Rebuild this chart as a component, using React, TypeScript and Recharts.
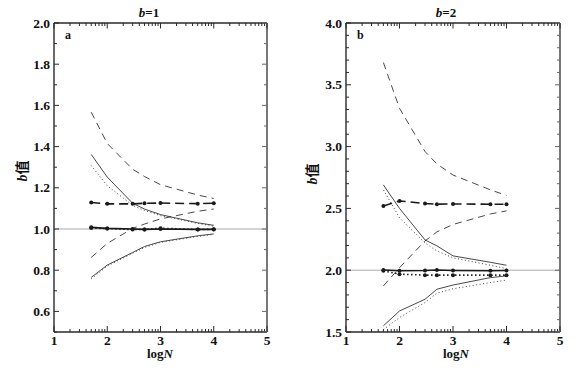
import React from "react";
import { LineChart, Line, XAxis, YAxis, ReferenceLine } from "recharts";

// logN sample points (N = 50, 100, 300, 500, 1000, 5000, 10000)
const logN = [1.699, 2, 2.477, 2.699, 3, 3.699, 4];

// panel a: b=1
const aDashUp = [1.567, 1.415, 1.29, 1.255, 1.215, 1.165, 1.148];
const aDashLo = [0.862, 0.93, 1.003, 1.024, 1.049, 1.086, 1.097];
const aSolidUp = [1.362, 1.252, 1.125, 1.097, 1.07, 1.03, 1.018];
const aDotUp = [1.308, 1.21, 1.115, 1.09, 1.065, 1.027, 1.014];
const aSolidLo = [0.765, 0.825, 0.886, 0.915, 0.938, 0.967, 0.976];
const aDotLo = [0.758, 0.82, 0.882, 0.91, 0.935, 0.964, 0.974];
const aMarkDash = [1.129, 1.122, 1.122, 1.125, 1.126, 1.123, 1.125];
const aMarkSolid = [1.008, 1.003, 1.0, 0.998, 1.0, 0.998, 0.998];
const aMarkDot = [1.005, 1.002, 0.997, 0.998, 1.004, 0.997, 0.999];

// panel b: b=2
const bDashUp = [3.68, 3.31, 2.96, 2.86, 2.77, 2.65, 2.605];
const bDashLo = [1.873, 2.02, 2.237, 2.31, 2.37, 2.455, 2.48];
const bSolidUp = [2.69, 2.5, 2.245, 2.197, 2.116, 2.064, 2.04];
const bDotUp = [2.65, 2.425, 2.22, 2.156, 2.1, 2.04, 2.013];
const bSolidLo = [1.55, 1.67, 1.765, 1.846, 1.88, 1.94, 1.954];
const bDotLo = [1.52, 1.617, 1.738, 1.814, 1.85, 1.9, 1.92];
const bMarkDash = [2.52, 2.56, 2.54, 2.534, 2.536, 2.534, 2.534];
const bMarkSolid = [2.002, 1.995, 1.998, 2.002, 1.998, 1.995, 1.998];
const bMarkDot = [1.995, 1.968, 1.96, 1.96, 1.96, 1.96, 1.96];

// axis ticks
const xMajor = [1, 2, 3, 4, 5];
const xMinorOffsets = [0.301, 0.477, 0.602, 0.699, 0.778, 0.845, 0.903, 0.954];
const yTicksA = [0.5, 0.6, 0.7, 0.8, 0.9, 1.0, 1.1, 1.2, 1.3, 1.4, 1.5, 1.6, 1.7, 1.8, 1.9, 2.0];
const yLabelsA = [0.6, 0.8, 1.0, 1.2, 1.4, 1.6, 1.8, 2.0];
const yTicksB = [1.5, 1.6, 1.7, 1.8, 1.9, 2.0, 2.1, 2.2, 2.3, 2.4, 2.5, 2.6, 2.7, 2.8, 2.9, 3.0,
  3.1, 3.2, 3.3, 3.4, 3.5, 3.6, 3.7, 3.8, 3.9, 4.0];
const yLabelsB = [1.5, 2.0, 2.5, 3.0, 3.5, 4.0];

const xTicks = [...xMajor, ...[1, 2, 3, 4].flatMap((d) => xMinorOffsets.map((m) => d + m))];

const FONT = "'Liberation Serif', 'Noto Sans CJK SC', serif";
const INK = "#1a1a1a";
const AX = "#2a2a2a";

const has = (list: number[], v: number) => list.some((t) => Math.abs(t - v) < 1e-6);

const buildRows = (s: Record<string, number[]>) =>
  logN.map((x, i) => {
    const row: Record<string, number> = { x };
    Object.keys(s).forEach((k) => (row[k] = s[k][i]));
    return row;
  });

const rowsA = buildRows({
  dashUp: aDashUp, dashLo: aDashLo, solidUp: aSolidUp, dotUp: aDotUp,
  solidLo: aSolidLo, dotLo: aDotLo, mDash: aMarkDash, mSolid: aMarkSolid, mDot: aMarkDot,
});
const rowsB = buildRows({
  dashUp: bDashUp, dashLo: bDashLo, solidUp: bSolidUp, dotUp: bDotUp,
  solidLo: bSolidLo, dotLo: bDotLo, mDash: bMarkDash, mSolid: bMarkSolid, mDot: bMarkDot,
});

const txt = { fontFamily: FONT, fontWeight: "bold" as const };

const bottomTick = (p: any) => {
  const major = has(xMajor, p.payload.value);
  return (
    <g>
      <line x1={p.x} x2={p.x} y1={p.y} y2={p.y - (major ? 6 : 3)} stroke={AX} strokeWidth={1} />
      {major && (
        <text x={p.x} y={p.y + 12.5} textAnchor="middle" fontSize={13.5} fill="#111" style={txt}>
          {p.payload.value}
        </text>
      )}
    </g>
  );
};

const topTick = (p: any) => {
  const major = has(xMajor, p.payload.value);
  return <line x1={p.x} x2={p.x} y1={p.y} y2={p.y + (major ? 5.5 : 3)} stroke={AX} strokeWidth={1} />;
};

const leftTick = (labels: number[]) => (p: any) => {
  const major = has(labels, p.payload.value);
  return (
    <g>
      <line x1={p.x} x2={p.x + (major ? 5 : 3)} y1={p.y} y2={p.y} stroke={AX} strokeWidth={1} />
      {major && (
        <text x={p.x - 4} y={p.y + 4.5} textAnchor="end" fontSize={13.5} fill="#111" style={txt}>
          {p.payload.value.toFixed(1)}
        </text>
      )}
    </g>
  );
};

const rightTick = (labels: number[]) => (p: any) => {
  const major = has(labels, p.payload.value);
  return <line x1={p.x} x2={p.x - (major ? 5 : 3)} y1={p.y} y2={p.y} stroke="#666" strokeWidth={1} />;
};

type PanelProps = {
  rows: Record<string, number>[];
  domain: [number, number];
  yTicks: number[];
  yLabels: number[];
  refY: number;
  leftW: number;
  rightW: number;
};

const Panel = ({ rows, domain, yTicks, yLabels, refY, leftW, rightW }: PanelProps) => (
  <LineChart width={290} height={370} data={rows} margin={{ top: 0, right: 0, bottom: 0, left: 0 }}>
    <XAxis
      dataKey="x"
      type="number"
      domain={[1, 5]}
      ticks={xTicks}
      interval={0}
      tickSize={0}
      tickMargin={0}
      tickLine={false}
      tick={bottomTick}
      axisLine={{ stroke: AX, strokeWidth: 1.4 }}
      height={38}
      allowDataOverflow
    />
    <XAxis
      xAxisId="top"
      orientation="top"
      dataKey="x"
      type="number"
      domain={[1, 5]}
      ticks={xTicks}
      interval={0}
      tickSize={0}
      tickMargin={0}
      tickLine={false}
      tick={topTick}
      axisLine={{ stroke: AX, strokeWidth: 1.4 }}
      height={23}
      allowDataOverflow
    />
    <YAxis
      type="number"
      domain={domain}
      ticks={yTicks}
      interval={0}
      tickSize={0}
      tickMargin={0}
      tickLine={false}
      tick={leftTick(yLabels)}
      axisLine={{ stroke: AX, strokeWidth: 1.4 }}
      width={leftW}
      allowDataOverflow
    />
    <YAxis
      yAxisId="r"
      orientation="right"
      type="number"
      domain={domain}
      ticks={yTicks}
      interval={0}
      tickSize={0}
      tickMargin={0}
      tickLine={false}
      tick={rightTick(yLabels)}
      axisLine={{ stroke: "#777", strokeWidth: 2 }}
      width={rightW}
      allowDataOverflow
    />
    <ReferenceLine y={refY} stroke="#aaa" strokeWidth={1} />
    <Line dataKey="dashUp" stroke={INK} strokeWidth={0.8} strokeDasharray="7 5" dot={false} isAnimationActive={false} />
    <Line dataKey="dashLo" stroke={INK} strokeWidth={0.8} strokeDasharray="7 5" dot={false} isAnimationActive={false} />
    <Line dataKey="solidUp" stroke={INK} strokeWidth={0.8} dot={false} isAnimationActive={false} />
    <Line dataKey="solidLo" stroke={INK} strokeWidth={0.8} dot={false} isAnimationActive={false} />
    <Line dataKey="dotUp" stroke="#444" strokeWidth={1} strokeDasharray="1 2.5" dot={false} isAnimationActive={false} />
    <Line dataKey="dotLo" stroke="#444" strokeWidth={1} strokeDasharray="1 2.5" dot={false} isAnimationActive={false} />
    <Line dataKey="mDash" stroke={INK} strokeWidth={1.6} strokeDasharray="9 5" dot={{ r: 2, fill: INK, stroke: "none" }} isAnimationActive={false} />
    <Line dataKey="mDot" stroke={INK} strokeWidth={1.6} strokeDasharray="1.5 2.5" dot={{ r: 2, fill: INK, stroke: "none" }} isAnimationActive={false} />
    <Line dataKey="mSolid" stroke={INK} strokeWidth={1.6} dot={{ r: 2, fill: INK, stroke: "none" }} isAnimationActive={false} />
  </LineChart>
);

export default function App() {
  return (
    <div style={{ position: "absolute", left: 0, top: 0, width: 580, height: 370, background: "#fff" }}>
      <div style={{ position: "absolute", left: 0, top: 0 }}>
        <Panel rows={rowsA} domain={[0.5, 2.0]} yTicks={yTicksA} yLabels={yLabelsA} refY={1} leftW={54} rightW={23} />
      </div>
      <div style={{ position: "absolute", left: 290, top: 0 }}>
        <Panel rows={rowsB} domain={[1.5, 4.0]} yTicks={yTicksB} yLabels={yLabelsB} refY={2} leftW={56} rightW={20} />
      </div>
      <svg width={580} height={370} style={{ position: "absolute", left: 0, top: 0, pointerEvents: "none" }}>
        <text x={149} y={17} textAnchor="middle" fontSize={13} fill="#111" style={txt}>
          <tspan fontStyle="italic">b</tspan>=1
        </text>
        <text x={446} y={17} textAnchor="middle" fontSize={13} fill="#111" style={txt}>
          <tspan fontStyle="italic">b</tspan>=2
        </text>
        <text x={65} y={39} fontSize={12} fill="#111" style={txt}>a</text>
        <text x={357} y={39} fontSize={12} fill="#111" style={txt}>b</text>
        <text transform="translate(27,171) rotate(-90)" textAnchor="middle" fontSize={14} fill="#111" style={txt}>
          <tspan fontStyle="italic">b</tspan>值
        </text>
        <text transform="translate(317,174) rotate(-90)" textAnchor="middle" fontSize={14} fill="#111" style={txt}>
          <tspan fontStyle="italic">b</tspan>值
        </text>
        <text x={160} y={358} textAnchor="middle" fontSize={13} fill="#111" style={txt}>
          log<tspan fontStyle="italic">N</tspan>
        </text>
        <text x={456} y={358} textAnchor="middle" fontSize={13} fill="#111" style={txt}>
          log<tspan fontStyle="italic">N</tspan>
        </text>
      </svg>
    </div>
  );
}
